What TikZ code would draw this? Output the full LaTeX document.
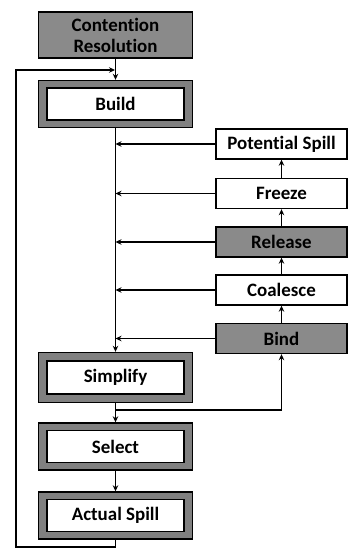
\documentclass[tikz,border=0pt]{standalone}
\usepackage{fontspec}
\setmainfont{Carlito}[Ligatures=NoCommon]
\usetikzlibrary{arrows.meta}
\definecolor{boxgray}{HTML}{8A8A8A}
\definecolor{frame}{HTML}{808080}
\begin{document}
\begin{tikzpicture}[x=1bp,y=-1bp,
 every node/.style={font=\fontsize{19}{21}\selectfont\bfseries, inner sep=0pt},
 outerbox/.style={draw, line width=1.4bp, fill=frame, minimum width=154bp, minimum height=47bp},
 innerbox/.style={draw, line width=1.4bp, fill=white, minimum width=137bp, minimum height=32bp},
 sidebox/.style={draw, line width=1.4bp, fill=white, minimum width=131bp, minimum height=30bp},
 shaded/.style={fill=boxgray},
 conn/.style={line width=1.4bp, -{Stealth[length=6bp,width=5.5bp]}}]
\useasboundingbox (0,0) rectangle (349,549);
% main column
\node[outerbox, fill=boxgray, minimum height=46bp, align=center] (cr) at (115.5,35) {Contention\\Resolution};
\node[outerbox] (build) at (115.5,104) {};
\node[innerbox] (buildi) at (build) {Build};
\node[outerbox, minimum height=50bp] (simp) at (115.5,377.5) {};
\node[innerbox, minimum height=33bp] (simpi) at (simp) {Simplify};
\node[outerbox] (sel) at (115.5,446.5) {};
\node[innerbox] (seli) at (sel) {Select};
\node[outerbox] (as) at (115.5,515.5) {};
\node[innerbox] (asi) at (as) {Actual Spill};
% side column
\node[sidebox] (ps) at (281.5,144) {Potential Spill};
\node[sidebox] (frz) at (281.5,193.5) {Freeze};
\node[sidebox, shaded] (rel) at (281.5,242) {Release};
\node[sidebox] (coal) at (281.5,290) {Coalesce};
\node[sidebox, shaded] (bind) at (281.5,338.5) {Bind};
% connectors
\coordinate (fb) at (115,70);
\coordinate (bl) at (16,547);
\coordinate (br) at (115.5,410);
\draw[conn] (cr) -- (build);
\draw[conn] (as.south) |- (bl) |- (fb);
\draw[conn] (build) -- (simp);
\draw[conn] (simp) -- (sel);
\draw[conn] (sel) -- (as);
\draw[conn] (br) -| (bind);
\draw[conn] (bind) -- (coal);
\draw[conn] (coal) -- (rel);
\draw[conn] (rel) -- (frz);
\draw[conn] (frz) -- (ps);
\foreach \n in {ps,frz,rel,coal,bind}
  \draw[conn] (\n.west) -- (\n.west -| build);
\end{tikzpicture}
\end{document}
